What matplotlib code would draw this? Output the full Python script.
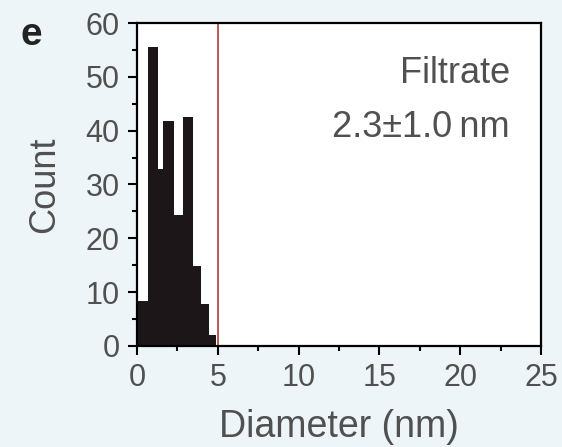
import numpy as np
import matplotlib.pyplot as plt

# histogram of filtrate diameters
bin_edges = [0.0, 0.66, 1.3, 1.62, 2.26, 2.86, 3.46, 3.97, 4.47, 4.9]
counts = [8.4, 55.6, 32.8, 41.8, 24.4, 42.5, 14.8, 7.8, 2.0]
cutoff = 5
x_ticks = [0, 5, 10, 15, 20, 25]
y_ticks = [0, 10, 20, 30, 40, 50, 60]

plt.rcParams['font.family'] = ['Liberation Sans', 'DejaVu Sans']
grey = '#505050'

fig = plt.figure(figsize=(5.62, 4.47), dpi=100, facecolor='#eef5f8')
ax = fig.add_axes([0.2438, 0.226, 0.7188, 0.7225])
ax.set_facecolor('white')

widths = np.diff(bin_edges)
ax.bar(bin_edges[:-1], counts, width=widths, align='edge', color='#1c1618', edgecolor='none')
ax.axvline(cutoff, color='#b83a3a', lw=1.2)

ax.set_xlim(0, 25)
ax.set_ylim(0, 60)
ax.set_xticks(x_ticks)
ax.set_yticks(y_ticks)
ax.set_xticks(np.arange(2.5, 25, 5), minor=True)
ax.set_yticks(np.arange(5, 60, 10), minor=True)
ax.tick_params(which='major', length=6.5, width=1.5, labelsize=22, labelcolor=grey, pad=6)
ax.tick_params(which='minor', length=3.5, width=1.5)
for s in ax.spines.values():
    s.set_linewidth(1.6)

ax.set_xlabel('Diameter (nm)', fontsize=27, color=grey, labelpad=11)
ax.set_ylabel('Count', fontsize=26, color=grey, labelpad=17)

ax.text(0.923, 0.814, 'Filtrate', transform=ax.transAxes, ha='right', va='baseline',
        fontsize=26, color=grey)
ax.text(0.923, 0.647, '2.3\u00b11.0\u2009nm', transform=ax.transAxes, ha='right', va='baseline',
        fontsize=26, color=grey)
fig.text(0.037, 0.899, 'e', fontsize=28, fontweight='bold', color='#222222', ha='left', va='baseline')

fig.savefig('out.png', dpi=100, facecolor=fig.get_facecolor())
